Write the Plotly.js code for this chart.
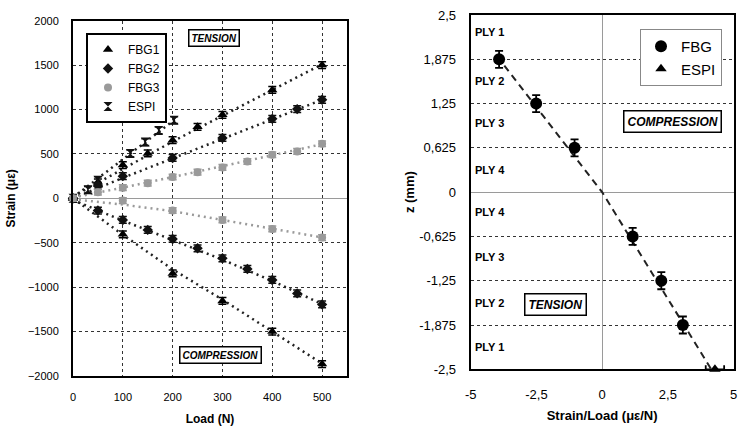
<!DOCTYPE html>
<html>
<head>
<meta charset="utf-8">
<script src="https://cdn.plot.ly/plotly-3.0.1.min.js"></script>
<style>html,body{margin:0;padding:0;background:#fff;}#chart{width:739px;height:430px;}</style>
</head>
<body>
<div id="chart"></div>
<script>
// ---------- Left chart data: Strain vs Load ----------
const loadFBG1T = [0, 50, 100, 150, 200, 250, 300, 400, 500];
const strainFBG1T = [0, 180, 375, 505, 655, 805, 940, 1220, 1500];
const loadFBG1C = [0, 100, 200, 300, 400, 500];
const strainFBG1C = [0, -405, -845, -1155, -1500, -1865];
const loadFBG2T = [0, 50, 100, 200, 300, 400, 450, 500];
const strainFBG2T = [0, 140, 250, 455, 680, 895, 1005, 1110];
const loadFBG2C = [0, 50, 100, 150, 200, 250, 300, 350, 400, 450, 500];
const strainFBG2C = [0, -137, -243, -355, -457, -562, -675, -795, -919, -1070, -1194];
const loadFBG3T = [0, 50, 100, 150, 200, 250, 300, 350, 400, 450, 500];
const strainFBG3T = [0, 70, 120, 171, 240, 295, 348, 415, 491, 528, 615];
const loadFBG3C = [0, 100, 200, 300, 400, 500];
const strainFBG3C = [0, -25, -137, -243, -344, -442];
const loadESPI = [0, 30, 50, 115, 145, 172, 203];
const strainESPI = [0, 96, 205, 505, 634, 765, 880];

// trend lines
const fitLoad = [0, 100, 200, 300, 400, 500];
const fitFBG1T = [20, 330, 640, 930, 1220, 1510];
const fitFBG2T = [0, 230, 450, 670, 890, 1110];
const fitFBG3T = [10, 120, 240, 360, 485, 610];
const fitFBG1C = [0, -410, -800, -1140, -1500, -1860];
const fitFBG2C = [-20, -250, -470, -690, -930, -1190];
const fitFBG3C = [-10, -70, -145, -243, -340, -440];
const fitLoadESPI = [0, 205];
const fitESPI = [10, 890];

const leftXTicks = [0, 100, 200, 300, 400, 500];
const leftYTicks = [-2000, -1500, -1000, -500, 0, 500, 1000, 1500, 2000];

// ---------- Right chart data: z vs Strain/Load ----------
const slFBG = [-3.92, -2.51, -1.05, 1.16, 2.25, 3.07];
const zFBG = [1.875, 1.25, 0.625, -0.625, -1.25, -1.875];
const slESPI = [4.29];
const zESPI = [-2.5];
const fitSL = [-4.0, 0, 4.15];
const fitZ = [1.92, 0, -2.5];

const rightXTicks = [-5, -2.5, 0, 2.5, 5];
const rightXText = ['-5', '-2,5', '0', '2,5', '5'];
const rightYTicks = [-2.5, -1.875, -1.25, -0.625, 0, 0.625, 1.25, 1.875, 2.5];
const rightYText = ['-2,5', '-1,875', '-1,25', '-0,625', '0', '0,625', '1,25', '1,875', '2,5'];

const plyLabels = ['PLY 1', 'PLY 2', 'PLY 3', 'PLY 4', 'PLY 4', 'PLY 3', 'PLY 2', 'PLY 1'];
const plyZ = [2.26, 1.57, 0.97, 0.31, -0.28, -0.92, -1.56, -2.19];

const FONT = 'Liberation Sans, Arial, sans-serif';
const GRAY = '#9a9a9a';

function fitTrace(x, y, color) {
  return {x: x, y: y, mode: 'lines', type: 'scatter', xaxis: 'x', yaxis: 'y',
    line: {color: color, width: 2.5, dash: '2px,4px'}, showlegend: false, hoverinfo: 'skip'};
}
function ptTrace(name, x, y, symbol, color, size, show, err) {
  return {name: name, x: x, y: y, mode: 'markers', type: 'scatter', xaxis: 'x', yaxis: 'y',
    marker: {symbol: symbol, color: color, size: size},
    error_y: {type: 'constant', value: err, color: color, thickness: 1.5, width: 4},
    showlegend: show, legend: 'legend', cliponaxis: false};
}

const traces = [
  fitTrace(fitLoad, fitFBG1T, '#222'),
  fitTrace(fitLoad, fitFBG2T, '#222'),
  fitTrace(fitLoad, fitFBG3T, GRAY),
  fitTrace(fitLoad, fitFBG1C, '#222'),
  fitTrace(fitLoad, fitFBG2C, '#222'),
  fitTrace(fitLoad, fitFBG3C, GRAY),
  fitTrace(fitLoadESPI, fitESPI, '#222'),
  ptTrace('FBG1', loadFBG1T, strainFBG1T, 'triangle-up', '#000', 9, true, 38),
  ptTrace('FBG2', loadFBG2T, strainFBG2T, 'diamond', '#111', 8, true, 38),
  ptTrace('FBG3', loadFBG3T, strainFBG3T, 'circle', GRAY, 8, true, 32),
  ptTrace('ESPI', loadESPI, strainESPI, 'hourglass', '#111', 9, true, 38),
  ptTrace('FBG1c', loadFBG1C, strainFBG1C, 'triangle-up', '#000', 9, false, 38),
  ptTrace('FBG2c', loadFBG2C, strainFBG2C, 'diamond', '#111', 8, false, 38),
  ptTrace('FBG3c', loadFBG3C, strainFBG3C, 'circle', GRAY, 8, false, 32),
  // right chart
  {x: fitSL, y: fitZ, mode: 'lines', type: 'scatter', xaxis: 'x2', yaxis: 'y2',
    line: {color: '#222', width: 2, dash: '7px,5px'}, showlegend: false, hoverinfo: 'skip'},
  {name: 'FBG', x: slFBG, y: zFBG, mode: 'markers', type: 'scatter', xaxis: 'x2', yaxis: 'y2',
    marker: {symbol: 'circle', color: '#000', size: 12},
    error_y: {type: 'constant', value: 0.12, color: '#000', thickness: 1.8, width: 4},
    legend: 'legend2', cliponaxis: false},
  {name: 'ESPI', x: slESPI, y: zESPI, mode: 'markers', type: 'scatter', xaxis: 'x2', yaxis: 'y2',
    marker: {symbol: 'triangle-up', color: '#000', size: 10},
    error_x: {type: 'constant', value: 0.35, color: '#000', thickness: 1.8, width: 4},
    legend: 'legend2', cliponaxis: false}
];

const annotations = [
  {xref: 'x', yref: 'y', x: 283, y: 1805, text: '<b><i>TENSION</i></b>', showarrow: false,
    font: {family: FONT, size: 10, color: '#000'}, bordercolor: '#000', borderwidth: 1.5, borderpad: 2, bgcolor: '#fff'},
  {xref: 'x', yref: 'y', x: 297, y: -1762, text: '<b><i>COMPRESSION</i></b>', showarrow: false,
    font: {family: FONT, size: 10, color: '#000'}, bordercolor: '#000', borderwidth: 1.5, borderpad: 2, bgcolor: '#fff'},
  {xref: 'x2', yref: 'y2', x: 2.67, y: 0.99, text: '<b><i>COMPRESSION</i></b>', showarrow: false,
    font: {family: FONT, size: 12, color: '#000'}, bordercolor: '#000', borderwidth: 1.5, borderpad: 3, bgcolor: '#fff'},
  {xref: 'x2', yref: 'y2', x: -1.78, y: -1.58, text: '<b><i>TENSION</i></b>', showarrow: false,
    font: {family: FONT, size: 12, color: '#000'}, bordercolor: '#000', borderwidth: 1.5, borderpad: 3, bgcolor: '#fff'}
];
plyLabels.forEach(function (t, i) {
  annotations.push({xref: 'x2', yref: 'y2', x: -4.92, y: plyZ[i], xanchor: 'left', text: '<b>' + t + '</b>',
    showarrow: false, font: {family: FONT, size: 11, color: '#000'}});
});

const layout = {
  width: 739, height: 430,
  margin: {l: 0, r: 0, t: 0, b: 0},
  paper_bgcolor: '#fff', plot_bgcolor: '#fff',
  font: {family: FONT, color: '#000', size: 11},
  showlegend: true,
  legend: {x: 86 / 739, y: 1 - 33 / 430, xanchor: 'left', yanchor: 'top',
    bgcolor: '#fff', bordercolor: '#000', borderwidth: 2,
    font: {family: FONT, size: 12, color: '#000'}, itemwidth: 30, tracegroupgap: 0},
  legend2: {x: 640 / 739, y: 1 - 29 / 430, xanchor: 'left', yanchor: 'top',
    bgcolor: '#fff', bordercolor: '#888', borderwidth: 1,
    font: {family: FONT, size: 15, color: '#000'}},
  xaxis: {domain: [73 / 739, 347 / 739], range: [0, 550], tickvals: leftXTicks,
    showgrid: true, gridcolor: '#333', griddash: 'dot', gridwidth: 1,
    zeroline: false, showline: true, mirror: true, linecolor: '#000', linewidth: 2,
    ticks: 'outside', ticklen: 10, tickcolor: 'rgba(0,0,0,0)', tickfont: {size: 11},
    title: {text: '<b>Load (N)</b>', font: {size: 12}, standoff: 12}, anchor: 'y'},
  yaxis: {domain: [1 - 376 / 430, 1 - 20.7 / 430], range: [-2000, 2000], tickvals: leftYTicks,
    showgrid: true, gridcolor: '#333', griddash: 'dot', gridwidth: 1,
    zeroline: true, zerolinecolor: GRAY, zerolinewidth: 1,
    showline: true, mirror: true, linecolor: '#000', linewidth: 2,
    ticks: 'outside', ticklen: 10, tickcolor: 'rgba(0,0,0,0)', tickfont: {size: 11},
    title: {text: '<b>Strain (με)</b>', font: {size: 12}, standoff: 10}, anchor: 'x'},
  xaxis2: {domain: [470.7 / 739, 733.6 / 739], range: [-5, 5], tickvals: rightXTicks, ticktext: rightXText,
    showgrid: false, zeroline: true, zerolinecolor: GRAY, zerolinewidth: 1,
    showline: true, mirror: true, linecolor: '#000', linewidth: 2,
    ticks: 'outside', ticklen: 12, tickcolor: 'rgba(0,0,0,0)', tickfont: {size: 13},
    title: {text: '<b>Strain/Load (με/N)</b>', font: {size: 13}, standoff: 10}, anchor: 'y2'},
  yaxis2: {domain: [1 - 369.3 / 430, 1 - 15 / 430], range: [-2.5, 2.5], tickvals: rightYTicks, ticktext: rightYText,
    showgrid: true, gridcolor: '#333', griddash: 'dot', gridwidth: 1,
    zeroline: true, zerolinecolor: GRAY, zerolinewidth: 1,
    showline: true, mirror: true, linecolor: '#000', linewidth: 2,
    ticks: 'outside', ticklen: 10, tickcolor: 'rgba(0,0,0,0)', tickfont: {size: 13},
    title: {text: '<b>z (mm)</b>', font: {size: 13}, standoff: 2}, anchor: 'x2'},
  annotations: annotations
};

Plotly.newPlot('chart', traces, layout, {displayModeBar: false, staticPlot: true});
</script>
</body>
</html>
